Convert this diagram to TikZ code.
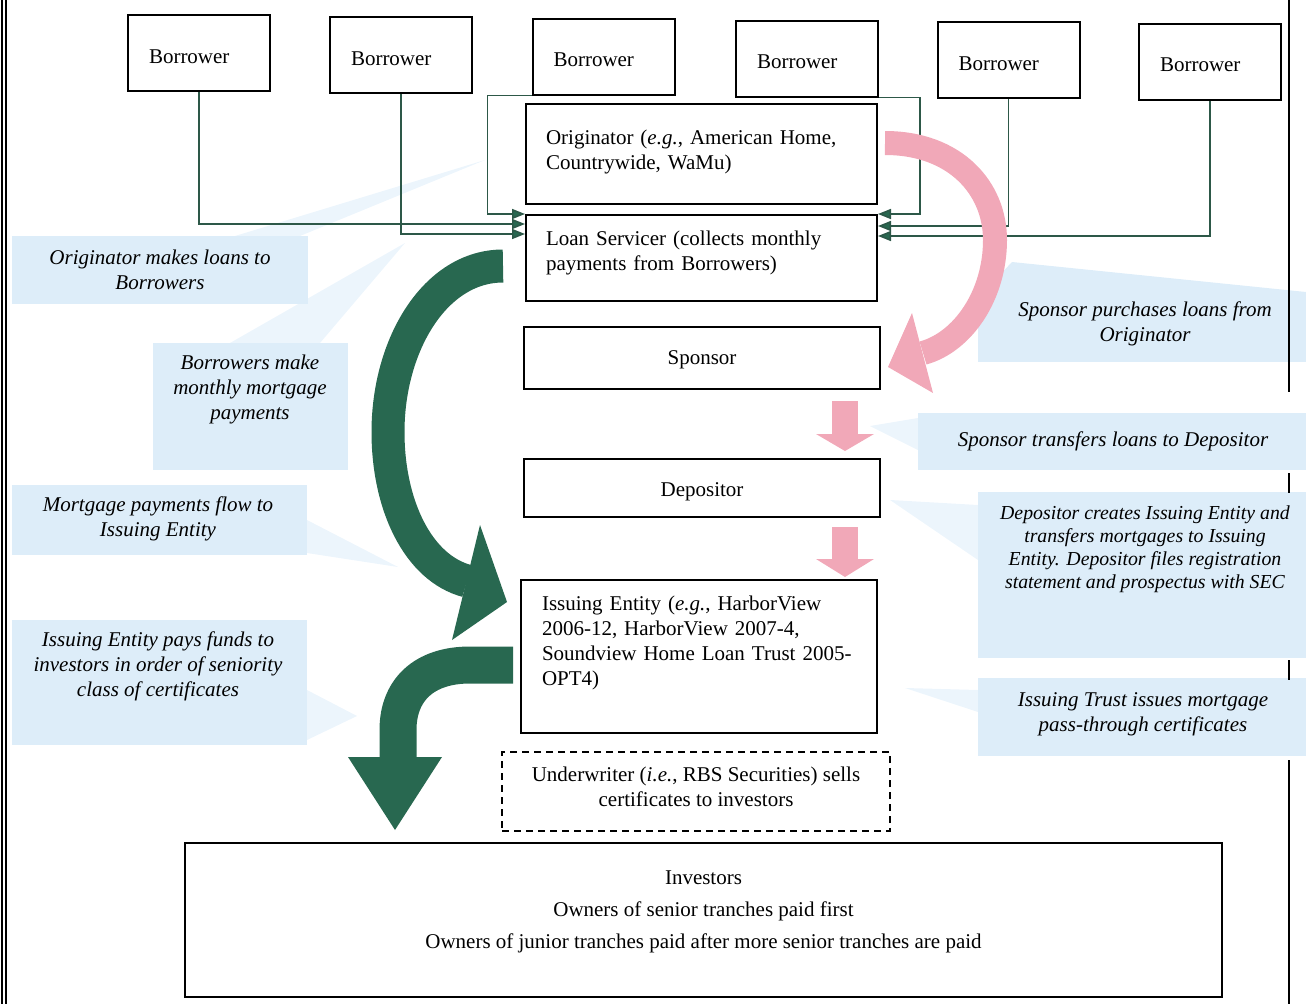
\documentclass[tikz,border=0pt]{standalone}
\usepackage{fontspec}
\setmainfont{Liberation Serif}
\usetikzlibrary{arrows.meta,calc}
\definecolor{cblue}{RGB}{221,237,249}
\definecolor{wblue}{RGB}{236,245,252}
\definecolor{dgreen}{RGB}{40,104,80}
\definecolor{lgreen}{RGB}{45,88,72}
\definecolor{pinkarr}{RGB}{241,168,184}
\begin{document}
\begin{tikzpicture}[x=1pt,y=-1pt,
  box/.style={draw=black,line width=2pt,fill=white,inner sep=0pt,font=\fontsize{21}{25}\selectfont},
  bbox/.style={box,text width=100pt,inner xsep=21pt,minimum height=76pt,align=left,text height=20pt,text depth=0pt},
  conn/.style={draw=lgreen,line width=1.6pt,-{Triangle[length=13pt,width=10pt,fill=dgreen]}},
  ctext/.style={inner sep=0pt,align=center,font=\fontsize{21}{25}\selectfont\itshape},
  bigarrow/.style={draw=dgreen,line cap=butt},
  pinkband/.style={draw=pinkarr,line cap=butt}
]
\useasboundingbox (0,0) rectangle (1306,1004);

% callout backgrounds
\fill[wblue] (235,236) -- (300,236) -- (485,160) -- cycle;
\fill[wblue] (230,343) -- (320,343) -- (405,243) -- cycle;
\fill[wblue] (307,520) -- (307,553) -- (398,567) -- cycle;
\fill[wblue] (307,690) -- (307,740) -- (357,716) -- cycle;
\fill[cblue] (978,298) -- (1012,262) -- (1306,292) -- (1306,298) -- cycle;
\fill[wblue] (918,418) -- (870,426) -- (918,450) -- cycle;
\fill[wblue] (978,505) -- (890,500) -- (978,560) -- cycle;
\fill[wblue] (978,690) -- (905,688) -- (978,712) -- cycle;
\fill[cblue] (12,236) rectangle (308,304);
\fill[cblue] (153,343) rectangle (348,470);
\fill[cblue] (12,485) rectangle (307,555);
\fill[cblue] (12,620) rectangle (307,745);
\fill[cblue] (978,298) rectangle (1306,362);
\fill[cblue] (918,413) rectangle (1306,470);
\fill[cblue] (978,492) rectangle (1306,658);
\fill[cblue] (978,678) rectangle (1306,756);

% frame
\draw[line width=1.2pt] (2,0) -- (2,1004);
\draw[line width=1.2pt] (6,0) -- (6,1004);
\draw[line width=1.5pt] (1289,0) -- (1289,392);
\draw[line width=1.5pt] (1289,473) -- (1289,493);
\draw[line width=1.5pt] (1289,660) -- (1289,680);
\draw[line width=1.5pt] (1289,760) -- (1289,1004);

% callout texts
\node[ctext] (t1) at (160,270) {Originator makes loans to\\Borrowers};
\node[ctext] (t2) at (250,389) {Borrowers make\\monthly mortgage\\payments};
\node[ctext] (t3) at (158,518.5) {Mortgage payments flow to\\Issuing Entity};
\node[ctext] (t4) at (158,666.5) {Issuing Entity pays funds to\\investors in order of seniority\\class of certificates};
\node[ctext] (t5) at (1145,323.5) {Sponsor purchases loans from\\Originator};
\node[ctext] (t6) at (1113,441) {Sponsor transfers loans to Depositor};
\node[ctext,font=\fontsize{19.8}{23}\selectfont\itshape] (t7) at (1145,549.5) {Depositor creates Issuing Entity and\\transfers mortgages to Issuing\\Entity. Depositor files registration\\statement and prospectus with SEC};
\node[ctext] (t8) at (1143,714.5) {Issuing Trust issues mortgage\\pass-through certificates};

% borrowers
\node[bbox] (b1) at (199,53) {Borrower};
\node[bbox] (b2) at (401,55) {Borrower};
\node[bbox] (b3) at (603.5,56.5) {Borrower};
\node[bbox] (b4) at (807,58.5) {Borrower};
\node[bbox] (b5) at (1008.5,60) {Borrower};
\node[bbox] (b6) at (1210,61.5) {Borrower};

% main boxes
\node[box,text width=311pt,inner xsep=20pt,minimum height=100pt,align=left,text depth=33pt] (orig) at (701.5,154)
  {Originator (\textit{e.g.}, American Home,\\Countrywide, WaMu)};
\node[box,text width=311pt,inner xsep=20pt,minimum height=86pt,align=left,text depth=39pt] (ls) at (701.5,258)
  {Loan Servicer (collects monthly\\payments from Borrowers)};
\node[box,minimum width=356pt,minimum height=62pt,text height=18pt,text depth=5pt] (sp) at (702,358) {Sponsor};
\node[box,minimum width=356pt,minimum height=58pt,text height=22pt,text depth=5pt] (dep) at (702,488) {Depositor};
\node[box,text width=314pt,inner xsep=21pt,minimum height=153pt,align=left,text depth=106pt] (ie) at (699,656.5)
  {Issuing Entity (\textit{e.g.}, HarborView\\2006-12, HarborView 2007-4,\\Soundview Home Loan Trust 2005-\\OPT4)};
\node[box,dashed,dash pattern=on 7pt off 5pt,minimum width=388pt,minimum height=79pt,align=center,text depth=10pt] (uw) at (696,791.5)
  {Underwriter (\textit{i.e.}, RBS Securities) sells\\certificates to investors};
\node[box,minimum width=1037pt,minimum height=154pt,align=center,font=\fontsize{21}{32}\selectfont,text depth=20pt] (inv) at (703.5,920)
  {Investors\\Owners of senior tranches paid first\\Owners of junior tranches paid after more senior tranches are paid};

% connectors borrowers -> servicer
\coordinate (l1) at (ls.north west);
\coordinate (l2) at ($(ls.north west)+(0,10)$);
\coordinate (l3) at ($(ls.north west)+(0,20)$);
\coordinate (r1) at (ls.north east);
\coordinate (r2) at ($(ls.north east)+(0,12)$);
\coordinate (r3) at ($(ls.north east)+(0,22)$);
\draw[conn] (b1.south) |- (l2);
\draw[conn] (b2.south) |- (l3);
\draw[conn] (b3.south west) -- ++(-44,0) |- (l1);
\draw[conn] (b4.south east) -- ++(41,0) |- (r1);
\draw[conn] (b5.south) |- (r2);
\draw[conn] (b6.south) |- (r3);

% big green arrows
\coordinate (g1s) at (503,266);
\coordinate (g1e) at (467,581);
\draw[bigarrow,line width=33pt] (g1s) .. controls (435,266) and (388,345) .. (388,432)
  .. controls (388,505) and (418,568) .. (g1e);
\fill[dgreen] (480,525) -- (507,602) -- (452,640) -- cycle;
\coordinate (g2s) at (513,665);
\coordinate (g2e) at (398,758);
\draw[bigarrow,line width=37pt] (g2s) -- (470,665) .. controls (424,665) and (398,690) .. (398,730) -- (g2e);
\fill[dgreen] (348,757) -- (442,757) -- (395,830) -- cycle;

% pink arrows
\coordinate (p1s) at (885,143);
\coordinate (p1e) at (923,353);
\draw[pinkband,line width=24pt] (p1s) .. controls (955,143) and (995,188) .. (995,240)
  .. controls (995,295) and (963,342) .. (p1e);
\fill[pinkarr] (912,313) -- (888,367) -- (933,393) -- cycle;
\fill[pinkarr] (832,401) rectangle (858,435);
\fill[pinkarr] (816,434) -- (874,434) -- (845,451) -- cycle;
\fill[pinkarr] (832,527) rectangle (858,560);
\fill[pinkarr] (816,559) -- (874,559) -- (845,577) -- cycle;
\end{tikzpicture}
\end{document}
